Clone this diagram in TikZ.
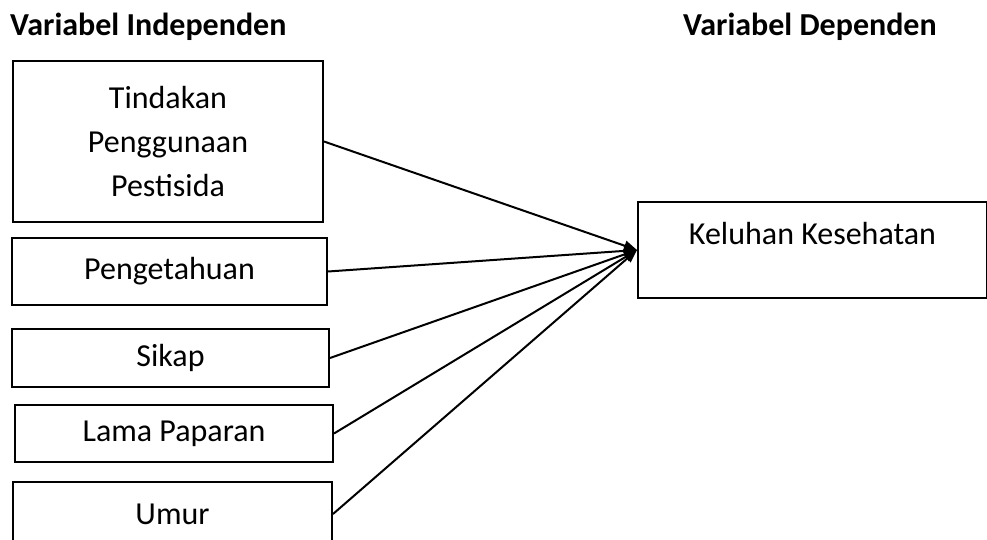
\documentclass[tikz,border=0pt]{standalone}
\usepackage{fontspec}
\setmainfont{Carlito}
\usetikzlibrary{arrows.meta}
\begin{document}
\begin{tikzpicture}[x=1pt,y=-1pt,
  varbox/.style={draw, line width=2pt, inner sep=0pt, align=center,
    font=\fontsize{32}{44}\selectfont},
  header/.style={anchor=base west, inner sep=0pt, font=\fontsize{32}{38}\selectfont\bfseries},
  conn/.style={line width=2pt, -{Triangle[length=13pt,width=10pt]}}]
\useasboundingbox (0,0) rectangle (987,540);
\clip (0,0) rectangle (987,540);
\node[header] (hi) at (10,36) {Variabel Independen};
\node[header] (hd) at (683,36) {Variabel Dependen};
\node[varbox, minimum width=310pt, minimum height=161pt] (t) at (168,141.5) {Tindakan\\Penggunaan\\Pestisida};
\node[varbox, minimum width=315pt, minimum height=67pt] (p) at (169.5,271.5) {Pengetahuan};
\node[varbox, minimum width=317pt, minimum height=58pt] (s) at (170.5,358) {Sikap};
\node[varbox, minimum width=318pt, minimum height=57pt] (l) at (174,433.5) {Lama Paparan};
\node[varbox, minimum width=319pt, minimum height=64pt] (u) at (172.5,514) {Umur};
\node[varbox, anchor=north west, minimum width=349pt, text height=42pt, text depth=54pt] (k) at (637,201) {Keluhan Kesehatan};
\draw[conn] (t.east) -- (k.west);
\draw[conn] (p.east) -- (k.west);
\draw[conn] (s.east) -- (k.west);
\draw[conn] (l.east) -- (k.west);
\draw[conn] (u.east) -- (k.west);
\end{tikzpicture}
\end{document}
